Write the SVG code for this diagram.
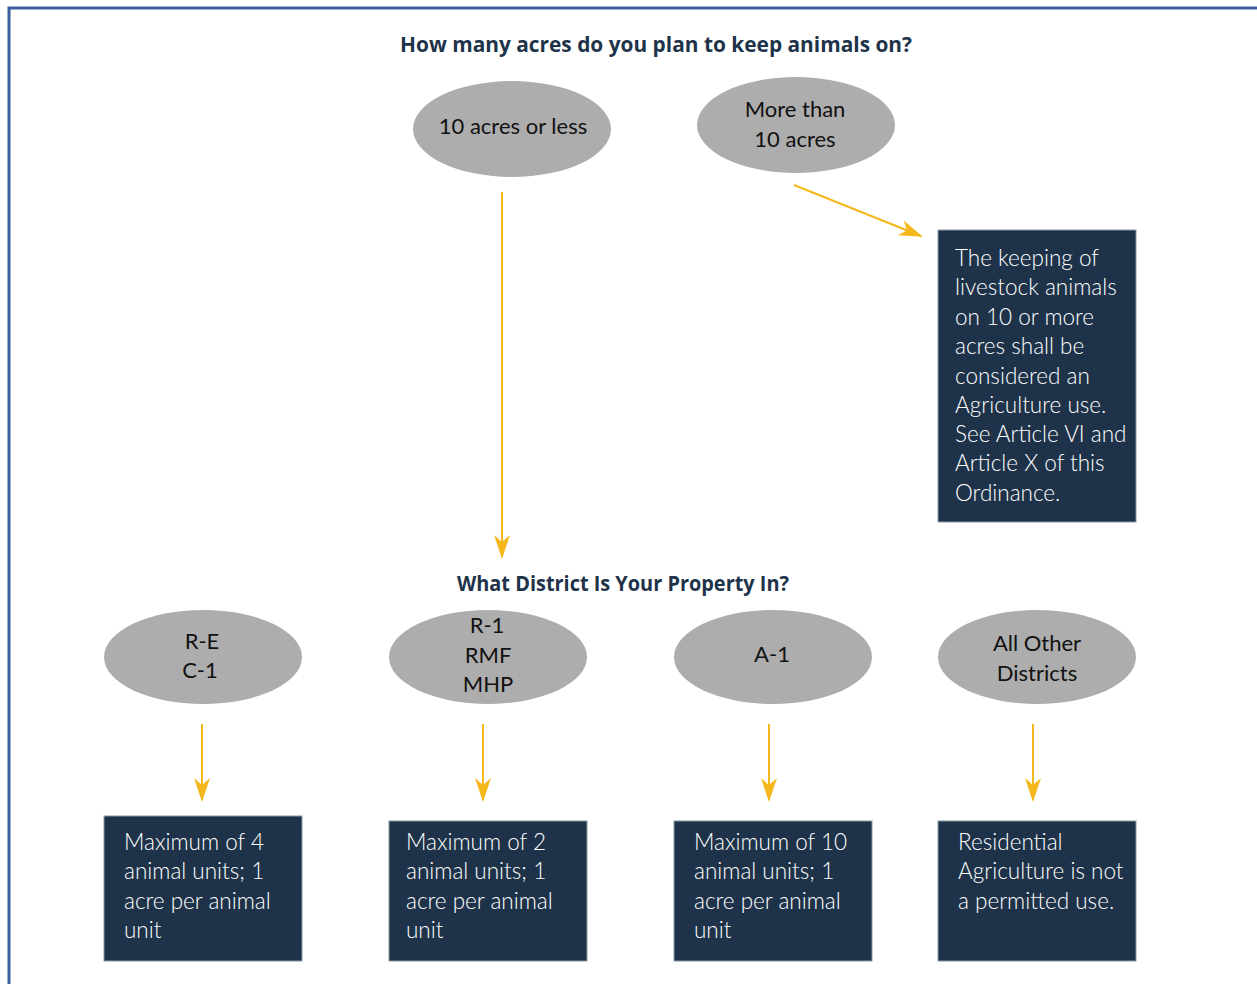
<svg xmlns="http://www.w3.org/2000/svg" width="1257" height="984" viewBox="0 0 1257 984">
<style>
.frame{fill:none;stroke:#3a5f9e;stroke-width:3}
.oval{fill:#adadad}
.box{fill:#1e3349;stroke:#8a97a6;stroke-width:1}
.head{font-family:"Open Sans","Liberation Sans",sans-serif;font-weight:700;font-size:20.5px;fill:#1e3349;text-anchor:middle}
.ot{font-family:"Lato","Liberation Sans",sans-serif;font-size:22px;fill:#111;text-anchor:middle}
.bt{font-family:"Lato","Liberation Sans",sans-serif;font-weight:300;font-size:22.5px;fill:#ffffff}
.conn{stroke:#f5b81c;stroke-width:2;fill:none;marker-end:url(#ah)}
</style>
<defs>
<marker id="ah" markerWidth="24" markerHeight="16" refX="22" refY="8" viewBox="0 0 24 16" markerUnits="userSpaceOnUse" orient="auto">
<path d="M0,0 L24,8 L0,16 L7,8 Z" fill="#f5b81c"/>
</marker>
</defs>
<rect width="1257" height="984" fill="#ffffff"/>
<path class="frame" d="M9,984 L9,8 L1257,8"/>
<text class="head" x="656" y="52" textLength="512" lengthAdjust="spacingAndGlyphs">How many acres do you plan to keep animals on?</text>
<text class="head" x="623" y="591" textLength="332" lengthAdjust="spacingAndGlyphs">What District Is Your Property In?</text>
<g id="connectors">
<line class="conn" x1="502" y1="192" x2="502" y2="557"/>
<line class="conn" x1="794" y1="185" x2="921" y2="236"/>
<line class="conn" x1="202" y1="724" x2="202" y2="800"/>
<line class="conn" x1="483" y1="724" x2="483" y2="800"/>
<line class="conn" x1="769" y1="724" x2="769" y2="800"/>
<line class="conn" x1="1033" y1="724" x2="1033" y2="800"/>
</g>
<g id="n-10less">
<ellipse class="oval" cx="512" cy="129" rx="99" ry="48"/>
<text class="ot" x="513" y="134">10 acres or less</text>
</g>
<g id="n-more10">
<ellipse class="oval" cx="796" cy="125" rx="99" ry="48"/>
<text class="ot" x="795" y="117">More than</text>
<text class="ot" x="795" y="147">10 acres</text>
</g>
<g id="n-agri">
<rect class="box" x="938" y="230" width="198" height="292"/>
<text class="bt" x="955" y="266">The keeping of</text>
<text class="bt" x="955" y="295">livestock animals</text>
<text class="bt" x="955" y="325">on 10 or more</text>
<text class="bt" x="955" y="354">acres shall be</text>
<text class="bt" x="955" y="384">considered an</text>
<text class="bt" x="955" y="413">Agriculture use.</text>
<text class="bt" x="955" y="442">See Article VI and</text>
<text class="bt" x="955" y="471">Article X of this</text>
<text class="bt" x="955" y="501">Ordinance.</text>
</g>
<g id="n-re">
<ellipse class="oval" cx="203" cy="657" rx="99" ry="47"/>
<text class="ot" x="202" y="649">R-E</text>
<text class="ot" x="200" y="678">C-1</text>
</g>
<g id="n-r1">
<ellipse class="oval" cx="488" cy="657" rx="99" ry="47"/>
<text class="ot" x="487" y="633">R-1</text>
<text class="ot" x="488" y="663">RMF</text>
<text class="ot" x="488" y="692">MHP</text>
</g>
<g id="n-a1">
<ellipse class="oval" cx="773" cy="657" rx="99" ry="47"/>
<text class="ot" x="772" y="662">A-1</text>
</g>
<g id="n-other">
<ellipse class="oval" cx="1037" cy="657" rx="99" ry="47"/>
<text class="ot" x="1037" y="651">All Other</text>
<text class="ot" x="1037" y="681">Districts</text>
</g>
<g id="n-max4">
<rect class="box" x="104" y="816" width="198" height="145"/>
<text class="bt" x="124" y="850">Maximum of 4</text>
<text class="bt" x="124" y="879">animal units; 1</text>
<text class="bt" x="124" y="909">acre per animal</text>
<text class="bt" x="124" y="938">unit</text>
</g>
<g id="n-max2">
<rect class="box" x="389" y="821" width="198" height="140"/>
<text class="bt" x="406" y="850">Maximum of 2</text>
<text class="bt" x="406" y="879">animal units; 1</text>
<text class="bt" x="406" y="909">acre per animal</text>
<text class="bt" x="406" y="938">unit</text>
</g>
<g id="n-max10">
<rect class="box" x="674" y="821" width="198" height="140"/>
<text class="bt" x="694" y="850">Maximum of 10</text>
<text class="bt" x="694" y="879">animal units; 1</text>
<text class="bt" x="694" y="909">acre per animal</text>
<text class="bt" x="694" y="938">unit</text>
</g>
<g id="n-notpermitted">
<rect class="box" x="938" y="821" width="198" height="140"/>
<text class="bt" x="958" y="850">Residential</text>
<text class="bt" x="958" y="879">Agriculture is not</text>
<text class="bt" x="958" y="909">a permitted use.</text>
</g>
</svg>
